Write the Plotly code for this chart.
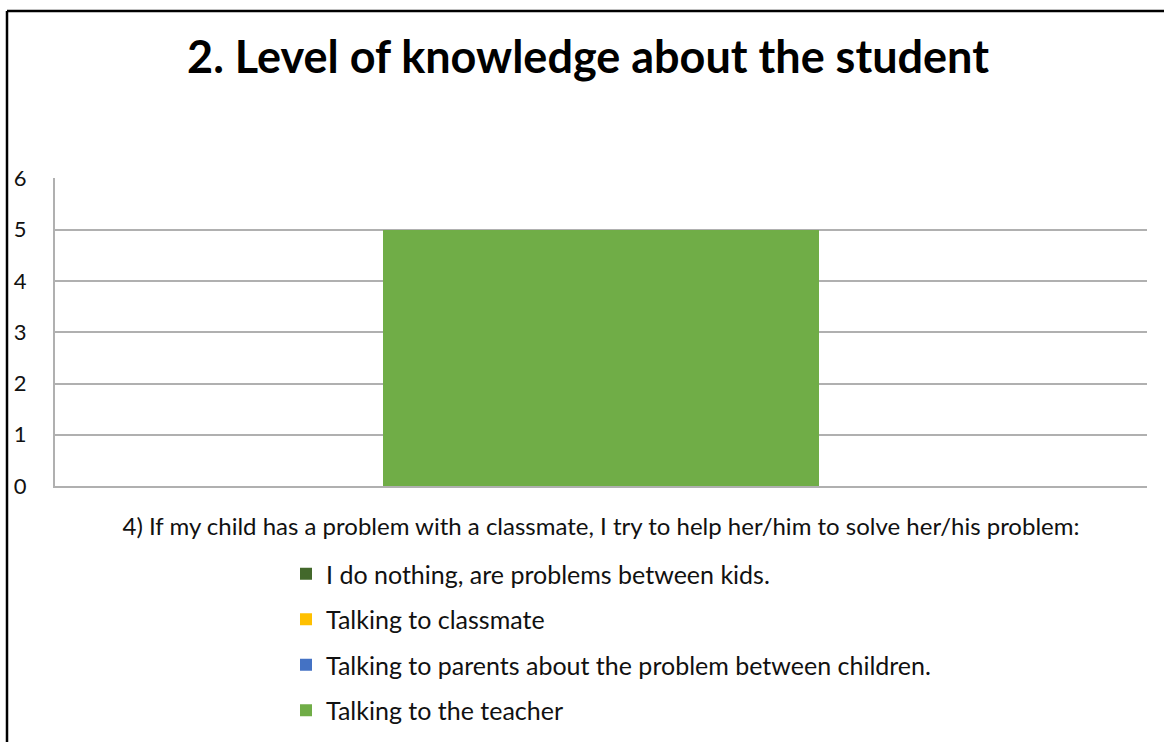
import plotly.graph_objects as go

# -----------------------------
# DATA
# -----------------------------
category = ["4) If my child has a problem with a classmate, I try to help her/him to solve her/his problem:"]

series_names = [
    "I do nothing, are problems between kids.",
    "Talking to classmate",
    "Talking to parents about the problem between children.",
    "Talking to the teacher",
]
series_values = [
    [0],
    [0],
    [0],
    [5],
]
series_colors = ["#43682b", "#ffc000", "#4472c4", "#70ad47"]

y_ticks = [0, 1, 2, 3, 4, 5, 6]

# -----------------------------
# FIGURE
# -----------------------------
W, H = 1164, 742
M_L, M_R, M_T, M_B = 55, 17, 178, 256
plot_w = W - M_L - M_R
plot_h = H - M_T - M_B


def px_x(x):
    return (x - M_L) / plot_w


def px_y(y):
    return (H - M_B - y) / plot_h


fig = go.Figure()

for i, (name, vals, col) in enumerate(zip(series_names, series_values, series_colors)):
    fig.add_trace(go.Bar(
        x=category,
        y=vals,
        name=name,
        marker=dict(color=col, line=dict(width=0)),
        width=0.4,
        legendgroup=f"g{i}",
    ))

font_family = "Lato, Carlito, 'Open Sans', sans-serif"
grid_col = "#b0b0b0"

fig.update_layout(
    width=W,
    height=H,
    barmode="stack",
    plot_bgcolor="white",
    paper_bgcolor="white",
    margin=dict(l=M_L, r=M_R, t=M_T, b=M_B, autoexpand=False),
    font=dict(family=font_family, color="#111111"),
    title=dict(
        text="<b>2. Level of knowledge about the student</b>",
        x=588 / W,
        xanchor="center",
        y=1 - 57 / H,
        yanchor="middle",
        font=dict(size=45, color="#000000", family=font_family),
    ),
    showlegend=True,
    legend=dict(
        x=px_x(286),
        xanchor="left",
        yref="container",
        y=1 - 551 / H,
        yanchor="top",
        orientation="v",
        traceorder="grouped",
        tracegroupgap=10,
        font=dict(size=25, color="#111111", family=font_family),
        itemwidth=30,
        bgcolor="rgba(0,0,0,0)",
    ),
    xaxis=dict(
        showgrid=False,
        showline=True,
        linecolor=grid_col,
        linewidth=2,
        zeroline=False,
        ticks="outside",
        ticklen=18,
        tickcolor="rgba(0,0,0,0)",
        tickfont=dict(size=24, color="#111111"),
        fixedrange=True,
    ),
    yaxis=dict(
        range=[0, 6.01],
        tickvals=y_ticks,
        showgrid=True,
        gridcolor=grid_col,
        gridwidth=2,
        zeroline=False,
        showline=True,
        linecolor=grid_col,
        linewidth=2,
        ticks="outside",
        ticklen=22,
        tickcolor="rgba(0,0,0,0)",
        tickfont=dict(size=22, color="#111111"),
        fixedrange=True,
    ),
)

# outer frame (top and left edges visible in the reference)
fig.add_shape(type="line", xref="paper", yref="paper",
              x0=px_x(7), x1=px_x(W + 5), y0=px_y(11), y1=px_y(11),
              line=dict(color="black", width=2.5))
fig.add_shape(type="line", xref="paper", yref="paper",
              x0=px_x(7), x1=px_x(7), y0=px_y(11), y1=px_y(H + 5),
              line=dict(color="black", width=2.5))

fig.write_html("out.html", config={"displayModeBar": False},
               post_script="document.body.style.margin='0';")
